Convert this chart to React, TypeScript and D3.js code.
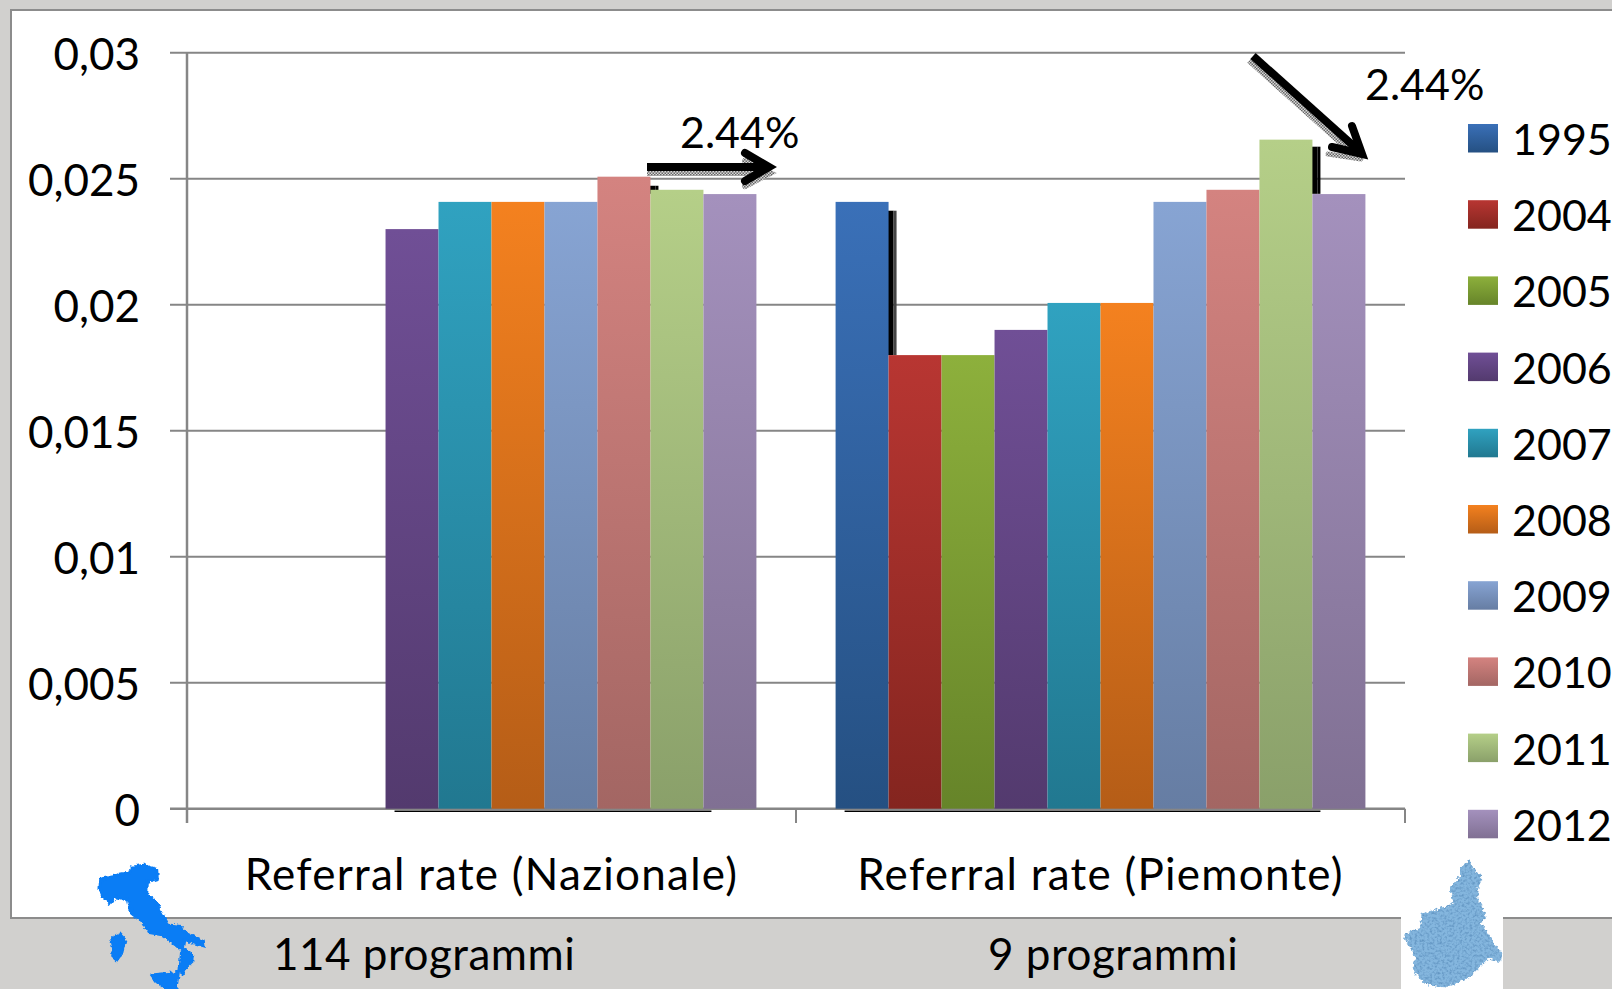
import React from "react";
import * as d3 from "d3";

const groups = ["Referral rate (Nazionale)", "Referral rate (Piemonte)"];
const subLabels = ["114 programmi", "9 programmi"];
const years = ["1995", "2004", "2005", "2006", "2007", "2008", "2009", "2010", "2011", "2012"];
const nazionale = [null, null, null, 0.023, 0.02408, 0.02408, 0.02408, 0.02508, 0.02456, 0.02439];
const piemonte = [0.02408, 0.018, 0.018, 0.019, 0.02007, 0.02007, 0.02408, 0.02456, 0.02655, 0.02439];
const topColors = ["#3a70b8", "#b83632", "#8db03c", "#704f96", "#30a2c0", "#f4811f", "#87a4d3", "#d48380", "#b5cf88", "#a491bd"];
const bottomColors = ["#255082", "#84251f", "#668429", "#533a6e", "#217890", "#b55d17", "#667da3", "#a36663", "#8aa06a", "#807093"];
const yTicks = [0, 0.005, 0.01, 0.015, 0.02, 0.025, 0.03];
const yLabels = ["0", "0,005", "0,01", "0,015", "0,02", "0,025", "0,03"];
// [group index, year index, top value, bottom value]
const errorBars: [number, number, number, number][] = [
  [0, 7, 0.02472, 0.0244],
  [1, 0, 0.02373, 0.018],
  [1, 8, 0.02627, 0.0244],
];
const italyMain = [[302,298],[340,290],[355,283],[388,280],[395,262],[430,256],[470,268],[472,295],[442,305],[440,345],[470,370],[485,400],[505,435],[545,440],[550,455],[610,485],[612,498],[585,490],[555,478],[550,505],[578,525],[575,545],[555,565],[548,580],[540,570],[545,510],[510,480],[490,465],[450,458],[425,425],[395,400],[385,360],[345,350],[330,370],[310,352],[300,325]];
const sardinia = [[335,475],[360,463],[375,480],[365,520],[350,540],[338,530],[340,500]];
const sicily = [[455,585],[535,577],[528,625],[500,627],[470,605]];
const piedmontShape = [[510,238],[520,265],[548,295],[535,320],[535,360],[558,405],[545,430],[570,470],[605,520],[600,545],[565,535],[510,590],[470,610],[430,625],[370,610],[340,570],[345,530],[310,465],[360,445],[365,400],[420,385],[460,370],[450,320],[480,290],[480,262]];

const W = 1612, H = 989;
const plot = { left: 187, right: 1405, top: 52.7, bottom: 808.7 };
const FONT = "Lato, Carlito, Calibri, sans-serif";
const GRID = "#868686";

export default function App() {
  const y = d3.scaleLinear().domain([0, 0.03]).range([plot.bottom, plot.top]);
  const x0 = d3.scaleBand<number>().domain([0, 1]).range([plot.left, plot.right]).paddingInner(0.13).paddingOuter(0.065);
  const x1 = d3.scaleBand<number>().domain(d3.range(years.length)).range([0, x0.bandwidth()]);
  const series = [nazionale, piemonte];
  const line = d3.line();
  const closed = d3.line().curve(d3.curveLinearClosed);
  const scaleGeo = (pts: number[][], ox: number, oy: number) => pts.map(([a, b]) => [ox + a / 3, oy + b / 3] as [number, number]);
  const boundaries = [plot.left, (plot.left + plot.right) / 2, plot.right];

  return (
    <svg width={W} height={H} style={{ position: "absolute", left: 0, top: 0, display: "block" }} fontFamily={FONT}>
      <defs>
        {years.map((yr, i) => (
          <linearGradient key={yr} id={`g${yr}`} x1="0" y1="0" x2="0" y2="1">
            <stop offset="0" stopColor={topColors[i]} />
            <stop offset="1" stopColor={bottomColors[i]} />
          </linearGradient>
        ))}
        <pattern id="dither" width="3" height="3" patternUnits="userSpaceOnUse">
          <rect width="3" height="3" fill="#d8d8d8" />
          <rect width="1.5" height="1.5" fill="#666" />
          <rect x="1.5" y="1.5" width="1.5" height="1.5" fill="#666" />
        </pattern>
        <filter id="rough" x="-5%" y="-5%" width="110%" height="110%" colorInterpolationFilters="sRGB">
          <feTurbulence type="fractalNoise" baseFrequency="0.25" numOctaves="2" seed="7" result="n" />
          <feDisplacementMap in="SourceGraphic" in2="n" scale="5" xChannelSelector="R" yChannelSelector="G" />
        </filter>
        <filter id="grain" x="-5%" y="-5%" width="110%" height="110%" colorInterpolationFilters="sRGB">
          <feTurbulence type="fractalNoise" baseFrequency="0.3" numOctaves="2" seed="4" result="n" />
          <feDisplacementMap in="SourceGraphic" in2="n" scale="6" xChannelSelector="R" yChannelSelector="G" result="shape" />
          <feTurbulence type="fractalNoise" baseFrequency="0.4" numOctaves="2" seed="11" result="m" />
          <feColorMatrix in="m" type="matrix" values="0 0 0 0 0.36  0 0 0 0 0.56  0 0 0 0 0.74  2 0 0 0 -0.85" result="c" />
          <feComposite in="c" in2="shape" operator="in" result="t" />
          <feMerge>
            <feMergeNode in="shape" />
            <feMergeNode in="t" />
          </feMerge>
        </filter>
      </defs>

      <rect width={W} height={H} fill="#d1d0ce" />
      <rect x={11} y={10} width={W} height={908} fill="#ffffff" stroke="#8c8c8c" strokeWidth={2} />

      {yTicks.map((t, i) => (
        <g key={t}>
          <line x1={170} x2={plot.right} y1={y(t)} y2={y(t)} stroke={GRID} strokeWidth={t === 0 ? 2.5 : 2} />
          <text x={140} y={y(t) + 17} textAnchor="end" fontSize={44} fill="#000">{yLabels[i]}</text>
        </g>
      ))}
      <line x1={plot.left} x2={plot.left} y1={plot.top} y2={823} stroke={GRID} strokeWidth={2.5} />
      {boundaries.slice(1).map((b) => (
        <line key={b} x1={b} x2={b} y1={plot.bottom} y2={823} stroke={GRID} strokeWidth={2} />
      ))}

      {series.map((vals, g) => (
        <line key={g} x1={x0(g)! + x1(g === 0 ? 3 : 0)! + 9} x2={x0(g)! + x1(9)! + 8} y1={plot.bottom + 2.5} y2={plot.bottom + 2.5} stroke="#000" strokeWidth={1.5} />
      ))}

      {errorBars.map(([g, s, top, bottom], i) => (
        <g key={i}>
          <rect x={x0(g)! + x1(s)! + x1.bandwidth() - 1} y={y(top)} width={6} height={y(bottom) - y(top)} fill="#000" />
          <rect x={x0(g)! + x1(s)! + x1.bandwidth() + 5} y={y(top)} width={3} height={y(bottom) - y(top)} fill={g === 1 && s === 0 ? "#444" : "#000"} />
        </g>
      ))}

      {series.map((vals, g) =>
        vals.map((v, s) =>
          v === null ? null : (
            <rect
              key={`${g}-${s}`}
              x={x0(g)! + x1(s)!}
              y={y(v)}
              width={x1.bandwidth()}
              height={plot.bottom - y(v)}
              fill={`url(#g${years[s]})`}
            />
          )
        )
      )}

      {groups.map((g, i) => (
        <text key={g} x={x0(i)! + x0.bandwidth() / 2} y={890} textAnchor="middle" fontSize={44} letterSpacing={1.25} fill="#000">{g}</text>
      ))}
      <text x={273} y={970} fontSize={44} letterSpacing={0.5} fill="#000">{subLabels[0]}</text>
      <text x={988} y={970} fontSize={44} letterSpacing={0.5} fill="#000">{subLabels[1]}</text>

      {years.map((yr, i) => (
        <g key={yr}>
          <rect x={1468} y={124 + i * 76.2} width={30} height={28.5} fill={`url(#g${yr})`} />
          <text x={1512} y={155 + i * 76.2} fontSize={43} fill="#000">{yr}</text>
        </g>
      ))}

      <g fill="none" strokeLinecap="round" strokeLinejoin="miter">
        <g stroke="url(#dither)" strokeWidth={6} transform="translate(0,6)">
          <path d={line([[647, 167], [772, 167]])!} strokeLinecap="butt" />
          <path d={line([[745, 155], [770, 167], [745, 180]])!} />
        </g>
        <g stroke="#000" strokeWidth={8}>
          <path d={line([[647, 167], [770, 167]])!} strokeLinecap="butt" />
          <path d={line([[745, 153], [769, 167], [745, 181]])!} />
        </g>
        <g stroke="url(#dither)" strokeWidth={5} transform="translate(-4,5)">
          <path d={line([[1253, 56], [1360, 152]])!} strokeLinecap="butt" />
          <path d={line([[1332, 149], [1365, 154]])!} />
        </g>
        <g stroke="#000" strokeWidth={8}>
          <path d={line([[1253, 56], [1358, 150]])!} strokeLinecap="butt" />
          <path d={line([[1352, 126], [1362, 154], [1332, 147]])!} />
        </g>
      </g>
      <text x={680} y={148} fontSize={43} fill="#000">2.44%</text>
      <text x={1365} y={100} fontSize={43} fill="#000">2.44%</text>

      <g fill="#0a7df5" stroke="#0a7df5" strokeWidth={3} filter="url(#rough)">
        <path d={closed(scaleGeo(italyMain, 0, 780))!} />
        <path d={closed(scaleGeo(sardinia, 0, 780))!} />
        <path d={closed(scaleGeo(sicily, 0, 780))!} />
      </g>
      <rect x={1401} y={917} width={102} height={72} fill="#ffffff" />
      <path d={closed(scaleGeo(piedmontShape, 1300, 780))!} fill="#84b6de" filter="url(#grain)" />
    </svg>
  );
}
